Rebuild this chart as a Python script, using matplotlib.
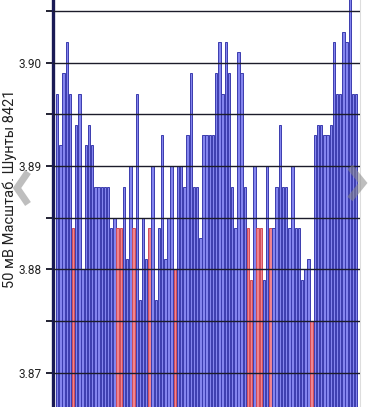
import matplotlib
matplotlib.use("Agg")
import matplotlib.pyplot as plt
from matplotlib.lines import Line2D
import numpy as np

# bar values (V)
values = [3.897, 3.892, 3.899, 3.902, 3.897, 3.884, 3.894, 3.897, 3.880, 3.892,
          3.894, 3.892, 3.888, 3.888, 3.888, 3.888, 3.888, 3.884, 3.885, 3.884,
          3.884, 3.888, 3.881, 3.890, 3.884, 3.897, 3.877, 3.885, 3.881, 3.884,
          3.890, 3.877, 3.884, 3.893, 3.881, 3.885, 3.890, 3.880, 3.890, 3.890,
          3.888, 3.893, 3.899, 3.888, 3.888, 3.883, 3.893, 3.893, 3.893, 3.893,
          3.899, 3.902, 3.897, 3.902, 3.899, 3.888, 3.884, 3.901, 3.899, 3.888,
          3.884, 3.879, 3.890, 3.884, 3.884, 3.879, 3.890, 3.884, 3.884, 3.888,
          3.894, 3.888, 3.888, 3.884, 3.890, 3.884, 3.884, 3.879, 3.880, 3.881,
          3.875, 3.893, 3.894, 3.894, 3.893, 3.893, 3.894, 3.902, 3.897, 3.897,
          3.903, 3.902, 3.908, 3.897, 3.897]
# indices (1-based) of the red bars
red_bars = [6, 20, 21, 25, 30, 38, 61, 62, 64, 65, 68, 81]

major_ticks = [3.87, 3.88, 3.89, 3.90]
minor_ticks = [3.875, 3.885, 3.895, 3.905]
ylabel = "50 мВ Масштаб. Шунты 8421"

W, H = 369, 407
fig = plt.figure(figsize=(W / 100, H / 100), dpi=100)
ax = fig.add_axes([53 / W, 0, (360 - 53) / W, 1])

base = 3.85
x = np.arange(len(values))
heights = [v - base for v in values]
face = ["#f08490" if (i + 1) in red_bars else "#8485ee" for i in range(len(values))]
edge = ["#cf4c58" if (i + 1) in red_bars else "#3b3cae" for i in range(len(values))]
ax.bar(x, heights, bottom=base, width=0.76, color=face, edgecolor=edge,
       linewidth=0.7, zorder=2)

ax.set_ylim(3.86667, 3.90607)
ax.set_xlim(-1.32, 95.2)

ax.set_yticks(major_ticks)
ax.set_yticklabels([f"{t:.2f}" for t in major_ticks])
ax.set_yticks(minor_ticks, minor=True)
ax.set_xticks([])
for t in major_ticks + minor_ticks:
    ax.axhline(t, color="#1c1c2a", lw=1.0, zorder=3)

ax.tick_params(axis="y", which="both", length=5, width=1.4, color="#222233",
               labelsize=8.5, pad=3, labelcolor="#222222")
for lab in ax.get_yticklabels():
    lab.set_family("Roboto")

for s in ["top", "bottom"]:
    ax.spines[s].set_visible(False)
ax.spines["left"].set_color("#1a1a55")
ax.spines["left"].set_linewidth(2.4)
ax.spines["right"].set_color("#dddddd")
ax.spines["right"].set_linewidth(0.8)

fig.text(10 / W, 1 - 189 / H, ylabel, rotation=90, ha="center", va="center",
         fontsize=10.5, family="Roboto", color="#222222")

# carousel chevrons
def chevron(pts):
    xs = [p[0] / W for p in pts]
    ys = [1 - p[1] / H for p in pts]
    fig.add_artist(Line2D(xs, ys, color="#8a8a8a", alpha=0.55, lw=5,
                          solid_capstyle="butt", solid_joinstyle="miter"))

chevron([(28, 172), (17, 188), (28, 204)])
chevron([(350, 167), (363, 183), (350, 199)])

fig.savefig("out.png", dpi=100)
